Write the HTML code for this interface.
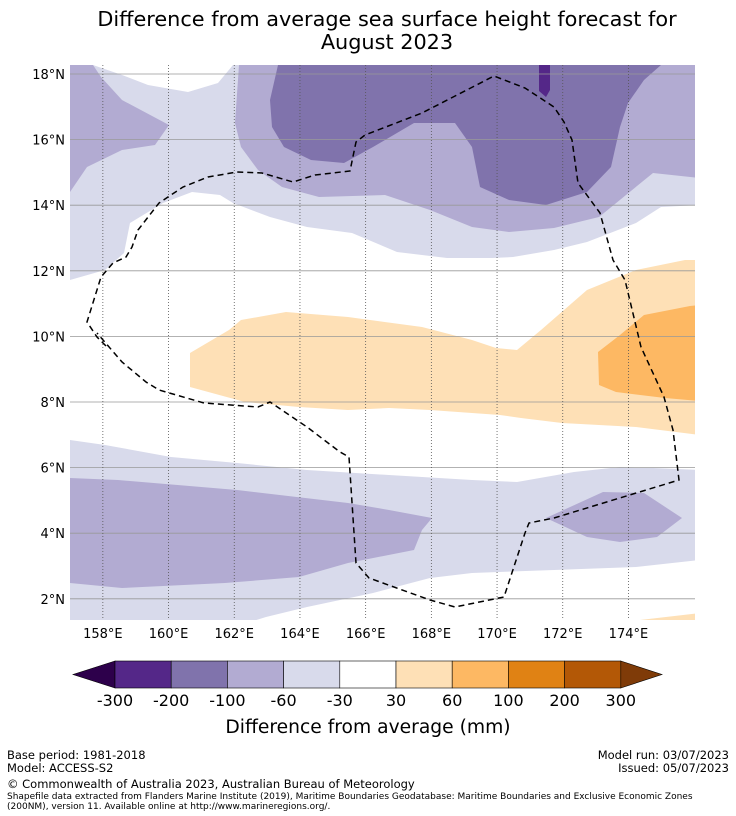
<!DOCTYPE html>
<html><head><meta charset="utf-8"><style>
body{margin:0;background:#fff;width:736px;height:816px;overflow:hidden;font-family:"DejaVu Sans","Liberation Sans",sans-serif}
svg{position:absolute;left:0;top:0;font-family:"DejaVu Sans","Liberation Sans",sans-serif}
</style></head><body>
<svg id="s" width="736" height="816" xmlns="http://www.w3.org/2000/svg">
<text x="387" y="26" font-size="20.8" text-anchor="middle">Difference from average sea surface height forecast for</text>
<text x="387" y="49" font-size="20.8" text-anchor="middle">August 2023</text>
<g id="map"></g>
<g id="cb"></g>
<text x="368" y="733" font-size="18.7" text-anchor="middle">Difference from average (mm)</text>
<g font-size="11.5">
<text x="7" y="759">Base period: 1981-2018</text>
<text x="7" y="772">Model: ACCESS-S2</text>
<text x="729" y="759" text-anchor="end">Model run: 03/07/2023</text>
<text x="729" y="772" text-anchor="end">Issued: 05/07/2023</text>
<text x="7" y="788">© Commonwealth of Australia 2023, Australian Bureau of Meteorology</text>
<text x="7" y="799" font-size="9">Shapefile data extracted from Flanders Marine Institute (2019), Maritime Boundaries Geodatabase: Maritime Boundaries and Exclusive Economic Zones</text>
<text x="7" y="809" font-size="9">(200NM), version 11. Available online at http://www.marineregions.org/.</text>
</g>
</svg>
<script>
const lonTicks=[158,160,162,164,166,168,170,172,174];
const latTicks=[2,4,6,8,10,12,14,16,18];
const cbLevels=[-300,-200,-100,-60,-30,30,60,100,200,300];
const cbColors=["#542788","#8073ac","#b2abd2","#d8daeb","#ffffff","#fee0b6","#fdb863","#e08214","#b35806"];
const cbExtend=["#2d004b","#7f3b08"];
const X0=70,X1=695,Y0=65,Y1=620;
const xs=lon=>70+(lon-157)*32.85, ys=lat=>74+(18-lat)*32.8;
const regions=[
 ["#d8daeb","70,65 700,65 700,205 661,207 636,223 587,242 554,250 513,257 492,258 447,258 397,252 352,233 307,227 270,217 233,203 220,195 192,192 163,203 130,223 124,253 105,270 70,280"],
 ["#ffffff","93,65 122,75 148,85 188,92 218,83 233,65"],
 ["#b2abd2","70,65 93,65 101,77 122,100 169,125 155,145 122,150 87,167 70,192"],
 ["#b2abd2","239,65 700,65 700,178 653,173 599,217 554,228 509,232 472,227 430,210 385,195 319,197 282,187 258,170 241,147 235,123"],
 ["#8073ac","278,65 661,65 644,80 628,103 620,127 611,167 587,192 546,205 509,200 480,187 472,147 455,123 414,123 373,147 344,163 311,160 284,147 272,127 270,100"],
 ["#542788","539,65 550,65 550,90 546,97 539,91"],
 ["#fee0b6","190,353 229,330 241,320 286,312 348,317 422,327 472,340 496,348 517,350 541,330 587,290 636,270 685,260 700,260 700,435 636,427 562,423 521,418 500,415 430,410 389,408 348,410 299,407 245,402 190,387"],
 ["#fdb863","598,352 620,335 644,315 690,306 700,305 700,401 665,398 616,392 599,385"],
 ["#d8daeb","70,440 105,445 171,457 237,463 307,470 389,475 472,480 517,482 574,472 620,467 653,468 700,470 700,560 636,567 554,570 472,573 430,578 373,593 307,607 266,617 250,622 70,622"],
 ["#b2abd2","70,478 118,480 237,490 348,503 389,510 432,518 422,530 414,550 348,563 299,577 225,583 122,588 70,583"],
 ["#b2abd2","546,518 603,492 644,493 682,518 657,537 620,542 587,537"],
 ["#fee0b6","640,620 700,613 700,620"]
];
const eez="106,346 97,337 87,322 101,277 113,263 126,257 132,247 138,230 159,203 183,187 208,177 237,172 262,173 293,182 315,175 350,171 356,142 365,135 422,113 494,76 525,88 554,107 564,122 572,140 578,183 600,213 613,260 625,280 641,347 664,397 673,430 679,480 554,518 529,523 525,533 504,597 455,607 430,600 369,578 356,563 349,457 340,452 307,427 270,402 258,407 204,403 159,390 146,382 122,362 97,333";
const NS="http://www.w3.org/2000/svg";
function mk(t,a,p){const e=document.createElementNS(NS,t);for(const k in a)e.setAttribute(k,a[k]);p.appendChild(e);return e;}
const map=document.getElementById('map');
const defs=mk('defs',{},map);const cp=mk('clipPath',{id:'c'},defs);mk('rect',{x:X0,y:Y0,width:X1-X0,height:Y1-Y0},cp);
const g=mk('g',{'clip-path':'url(#c)'},map);
regions.forEach((r,i)=>{const p=mk('polygon',{points:r[1],fill:r[0]},g);

});
latTicks.forEach(v=>{const l=mk('line',{x1:X0,x2:X1,y1:ys(v),y2:ys(v),stroke:'#999','stroke-width':0.8},g);


const t=mk('text',{x:65,y:ys(v)+5,'font-size':13,'text-anchor':'end'},map);t.textContent=v+'°N';

});
lonTicks.forEach(v=>{const l=mk('line',{x1:xs(v),x2:xs(v),y1:Y0,y2:Y1,stroke:'#555','stroke-width':0.8,'stroke-dasharray':'1,2'},g);


const t=mk('text',{x:xs(v),y:638,'font-size':13,'text-anchor':'middle'},map);t.textContent=v+'°E';

});
const e=mk('polyline',{points:eez,fill:'none',stroke:'#000','stroke-width':1.5,'stroke-dasharray':'6,4'},g);


const cb=document.getElementById('cb');
const cx0=115,cw=56.2,cy=661,ch=27;
const lt=mk('polygon',{points:`${cx0},${cy} ${cx0},${cy+ch} 73,${cy+ch/2}`,fill:cbExtend[0],stroke:'#000','stroke-width':0.6},cb);


cbColors.forEach((c,i)=>{const r=mk('rect',{x:cx0+i*cw,y:cy,width:cw,height:ch,fill:c,stroke:'#000','stroke-width':0.6},cb);

});
const xe=cx0+cbColors.length*cw;
const rt=mk('polygon',{points:`${xe},${cy} ${xe},${cy+ch} 662,${cy+ch/2}`,fill:cbExtend[1],stroke:'#000','stroke-width':0.6},cb);


cbLevels.forEach((v,i)=>{const t=mk('text',{x:cx0+i*cw,y:706,'font-size':16,'text-anchor':'middle'},cb);t.textContent=v;

});
</script>
</body></html>
